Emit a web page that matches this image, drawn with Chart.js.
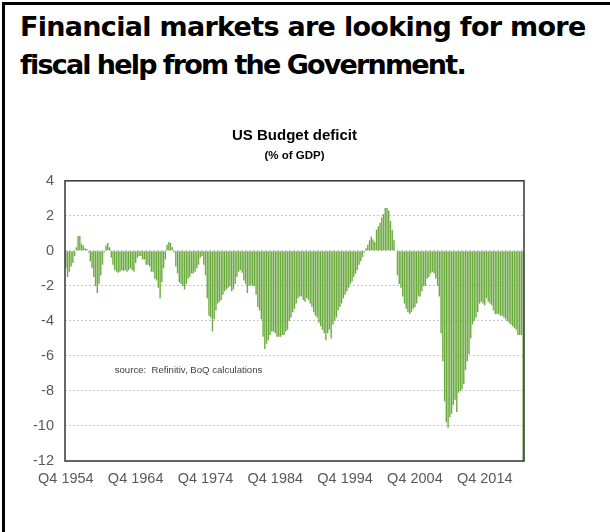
<!DOCTYPE html>
<html>
<head>
<meta charset="utf-8">
<script src="https://cdn.jsdelivr.net/npm/chart.js@4.4.1/dist/chart.umd.min.js"></script>
<style>
  html, body { margin: 0; padding: 0; background: #fff; }
  body { width: 610px; height: 532px; position: relative; overflow: hidden; }
  #frame {
    position: absolute; left: 2px; top: 2px; right: 0; bottom: 0;
    border-left: 3px solid #000; border-top: 3px solid #000;
  }
  #headline {
    position: absolute; left: 20px; top: 8px; width: 590px;
    font-family: "DejaVu Sans", Verdana, sans-serif; font-weight: bold;
    font-size: 27px; line-height: 38px; letter-spacing: -0.7px; color: #000;
  }
  #headline .second { letter-spacing: -1.8px; word-spacing: -0.5px; }
  #chartBox { position: absolute; left: 0; top: 110px; width: 560px; height: 420px; }
</style>
</head>
<body>
<div id="frame"></div>
<div id="headline">Financial markets are looking for more<br><span class="second">fiscal help from the Government.</span></div>
<div id="chartBox"><canvas id="deficitChart"></canvas></div>
<script>
// Quarterly US federal budget balance, % of GDP, Q4 1954 onwards
const FIRST_YEAR = 1954;
const FIRST_QUARTER = 4;

const deficit = [
  // 1954Q4 - 1964Q3
  -1.0, -1.5, -1.2, -0.9, -0.7, -0.3, 0.2, 0.85, 0.85, 0.4,
  0.3, 0.15, 0.1, -0.1, -0.6, -1.0, -1.5, -2.0, -2.4, -1.9,
  -1.4, -0.8, -0.1, 0.3, 0.45, 0.2, -0.4, -0.8, -1.1, -1.2,
  -1.25, -1.2, -1.1, -1.15, -1.1, -1.2, -1.1, -1.0, -1.1, -1.2,
  // 1964Q4 - 1974Q3
  -0.7, -0.4, -0.3, -0.3, -0.5, -0.5, -0.8, -0.8, -0.9, -1.2,
  -1.2, -1.6, -1.7, -2.1, -2.7, -1.8, -1.0, -0.5, 0.35, 0.5,
  0.45, 0.2, -0.1, -0.9, -1.3, -1.8, -1.9, -2.0, -2.2, -1.9,
  -1.6, -1.5, -1.3, -1.3, -1.2, -1.0, -0.8, -0.4, -0.3, -0.8,
  // 1974Q4 - 1984Q3
  -1.4, -2.7, -3.7, -3.8, -4.6, -3.9, -3.4, -3.0, -2.9, -2.8,
  -2.5, -2.3, -2.2, -2.1, -2.0, -2.3, -2.2, -1.9, -1.5, -1.2,
  -1.1, -1.25, -1.7, -1.9, -2.4, -2.0, -1.95, -2.0, -2.0, -2.5,
  -3.2, -3.4, -3.9, -4.9, -5.6, -5.3, -5.1, -4.8, -4.6, -4.6,
  // 1984Q4 - 1994Q3
  -4.7, -4.9, -4.9, -4.9, -4.8, -4.8, -4.6, -4.5, -4.0, -3.8,
  -3.5, -3.3, -3.0, -2.7, -2.6, -2.6, -2.8, -2.9, -2.7, -2.8,
  -3.0, -3.2, -3.5, -3.7, -3.8, -4.1, -4.3, -4.5, -4.7, -5.1,
  -4.7, -4.5, -5.0, -4.2, -4.0, -3.8, -3.4, -3.2, -3.0, -2.7,
  // 1994Q4 - 2004Q3
  -2.5, -2.3, -2.1, -1.9, -1.75, -1.5, -1.3, -1.1, -0.8, -0.6,
  -0.35, -0.1, 0.15, 0.35, 0.6, 0.8, 0.65, 0.5, 1.2, 1.4,
  1.6, 1.9, 2.1, 2.45, 2.45, 2.3, 1.7, 1.2, 0.6, 0.0,
  -1.4, -1.9, -2.1, -2.6, -3.0, -3.3, -3.5, -3.6, -3.5, -3.3,
  // 2004Q4 - 2014Q3
  -3.2, -3.0, -2.6, -2.6, -2.3, -2.0, -2.0, -1.6, -1.5, -1.3,
  -1.2, -1.3, -1.6, -2.0, -2.6, -4.7, -6.3, -8.6, -9.8, -10.1,
  -9.5, -9.3, -8.8, -8.5, -9.2, -8.1, -8.0, -7.9, -7.6, -6.8,
  -6.3, -5.9, -5.0, -4.2, -4.0, -3.8, -3.5, -3.0, -2.9, -3.0,
  // 2014Q4 - 2020Q2
  -3.1, -2.7, -2.9, -3.0, -3.1, -3.4, -3.6, -3.6, -3.6, -3.7,
  -3.7, -3.8, -3.9, -4.0, -4.1, -4.2, -4.3, -4.4, -4.5, -4.8,
  -4.8, -4.8, -13.0
];

// Y axis range and tick step
const Y_MIN = -12;
const Y_MAX = 4;
const Y_STEP = 2;

// quarter labels, one per bar
const quarters = deficit.map((_, i) => {
  const q = FIRST_QUARTER - 1 + i;
  return 'Q' + (q % 4 + 1) + ' ' + (FIRST_YEAR + Math.floor(q / 4));
});

const TICK_FONT = { family: 'Arial, "Liberation Sans", sans-serif', size: 14.5 };
const TICK_COLOR = '#595959';

// frame around the plot and the source note
const plotExtras = {
  id: 'plotExtras',
  afterDatasetsDraw(chart) {
    const { ctx, chartArea: a, scales } = chart;
    ctx.save();
    ctx.strokeStyle = '#404040';
    ctx.lineWidth = 1.6;
    ctx.strokeRect(a.left, a.top, a.right - a.left, a.bottom - a.top);
    ctx.fillStyle = '#404040';
    ctx.font = '9.6px Arial, "Liberation Sans", sans-serif';
    ctx.textBaseline = 'middle';
    ctx.fillText('source:  Refinitiv, BoQ calculations',
      scales.x.getPixelForValue(28), scales.y.getPixelForValue(-6.85));
    ctx.restore();
  }
};

new Chart(document.getElementById('deficitChart'), {
  type: 'bar',
  data: {
    labels: quarters,
    datasets: [{
      data: deficit,
      backgroundColor: '#6aaa3e',
      borderWidth: 0,
      barPercentage: 1,
      categoryPercentage: 0.8
    }]
  },
  options: {
    responsive: true,
    maintainAspectRatio: false,
    animation: false,
    layout: { padding: { left: 0, right: 36, top: 0, bottom: 0 } },
    plugins: {
      legend: { display: false },
      tooltip: { enabled: false },
      title: {
        display: true,
        fullSize: false,
        text: 'US Budget deficit',
        color: '#000',
        font: { family: 'Arial, "Liberation Sans", sans-serif', size: 15, weight: 'bold', lineHeight: 1.2 },
        padding: { top: 17, bottom: 2 }
      },
      subtitle: {
        display: true,
        fullSize: false,
        text: '(% of GDP)',
        color: '#000',
        font: { family: 'Arial, "Liberation Sans", sans-serif', size: 11.5, weight: 'bold', lineHeight: 1.2 },
        padding: { top: 2, bottom: 18 }
      }
    },
    scales: {
      x: {
        grid: { display: false, drawTicks: false },
        border: { display: false },
        ticks: {
          autoSkip: false,
          maxRotation: 0,
          minRotation: 0,
          padding: 9,
          color: TICK_COLOR,
          font: TICK_FONT,
          callback: (v, i) => (i % 40 === 0 ? quarters[i] : '')
        },
        afterFit: (scale) => { scale.height = 69; }
      },
      y: {
        min: Y_MIN,
        max: Y_MAX,
        grid: { color: '#c8c8c8', lineWidth: 1, drawTicks: false },
        border: { display: false, dash: [2, 2] },
        ticks: {
          stepSize: Y_STEP,
          padding: 11,
          color: TICK_COLOR,
          font: TICK_FONT
        },
        afterFit: (scale) => { scale.width = 65; }
      }
    }
  },
  plugins: [plotExtras]
});
</script>
</body>
</html>
